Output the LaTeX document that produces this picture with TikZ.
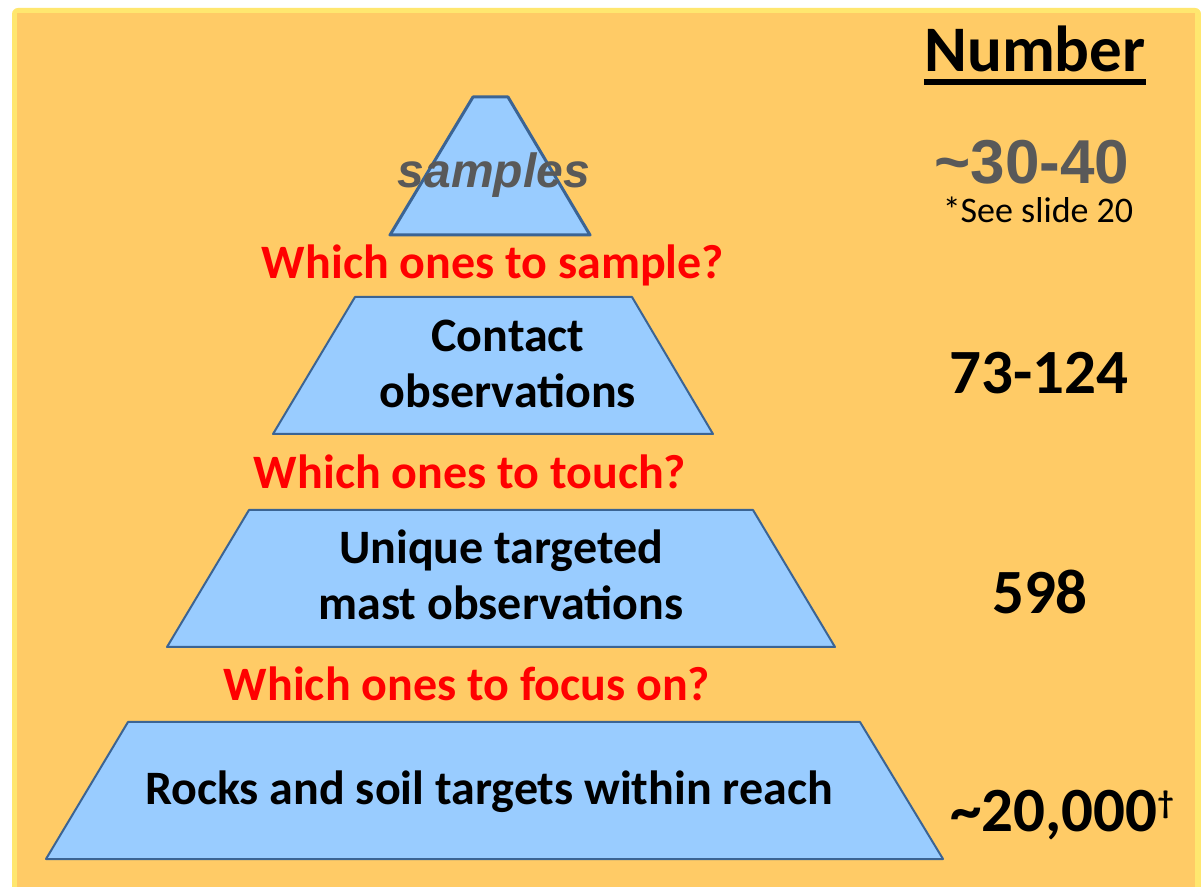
\documentclass[tikz,border=0pt]{standalone}
\usepackage{fontspec}
\setmainfont{Carlito}
\newfontfamily\arialfont{Liberation Sans}
\usepackage{tikz}

\definecolor{slideorange}{HTML}{FFCB66}
\definecolor{slideyellow}{HTML}{FFE76F}
\definecolor{layerblue}{HTML}{99CCFF}
\definecolor{layeredge}{HTML}{3B6494}
\definecolor{textgray}{HTML}{595959}

\begin{document}
\begin{tikzpicture}[x=0.5pt,y=-0.5pt,
    layer/.style={fill=layerblue,draw=layeredge,line width=1pt,line join=round},
    question/.style={text=red,font=\bfseries\fontsize{24}{28}\selectfont,anchor=base,inner sep=0pt},
    inside/.style={font=\bfseries\fontsize{24}{28}\selectfont,align=center,anchor=base,inner sep=0pt},
    count/.style={font=\bfseries\fontsize{31.5}{36}\selectfont,anchor=base,inner sep=0pt}]
  \useasboundingbox (0,0) rectangle (1201,887);
  \fill[white] (0,0) rectangle (1201,887);
  \fill[slideyellow,rounded corners=3pt] (12,8) rectangle (1201,900);
  \fill[slideorange] (17,13) rectangle (1195,900);

  \path[layer,line width=1.5pt] (473,97) -- (508,97) -- (590,235) -- (390,235) -- cycle;
  \path[layer] (355,297) -- (632,297) -- (713,434) -- (273,434) -- cycle;
  \path[layer] (249,510) -- (753,510) -- (835,647) -- (167,647) -- cycle;
  \path[layer] (128,722) -- (860,722) -- (943,859) -- (46,859) -- cycle;

  \node[anchor=base,inner sep=0pt,text=textgray,font=\arialfont\bfseries\itshape\fontsize{24}{28}\selectfont] (samples) at (494,188) {samples};
  \node[inside] (contact) at (508,408) {Contact\\observations};
  \node[inside] (mast) at (501,620) {Unique targeted\\mast observations};
  \node[inside] (rocks) at (489,805) {Rocks and soil targets within reach};

  \node[question] (qsample) at (493,279) {Which ones to sample?};
  \node[question] (qtouch) at (470,489) {Which ones to touch?};
  \node[question] (qfocus) at (467,701) {Which ones to focus on?};

  \node[count,font=\bfseries\fontsize{32.5}{38}\selectfont] (number) at (1035,72) {Number};
  \draw[line width=3pt] ([yshift=-5pt]number.base west) -- ([yshift=-5pt]number.base east);
  \node[count,text=textgray,font=\arialfont\bfseries\fontsize{31}{36}\selectfont] (nsamples) at (1032,184) {\textasciitilde30-40};
  \node[anchor=base,inner sep=0pt,font=\fontsize{18}{22}\selectfont] (slide) at (1038,223) {*See slide 20};
  \node[count] (ncontact) at (1039,394) {73-124};
  \node[count] (nmast) at (1040,614) {598};
  \node[count,anchor=base west] (nrocks) at (950,832) {\textasciitilde20,000\textsuperscript{\fontsize{16}{18}\selectfont\textdagger}};
\end{tikzpicture}
\end{document}
